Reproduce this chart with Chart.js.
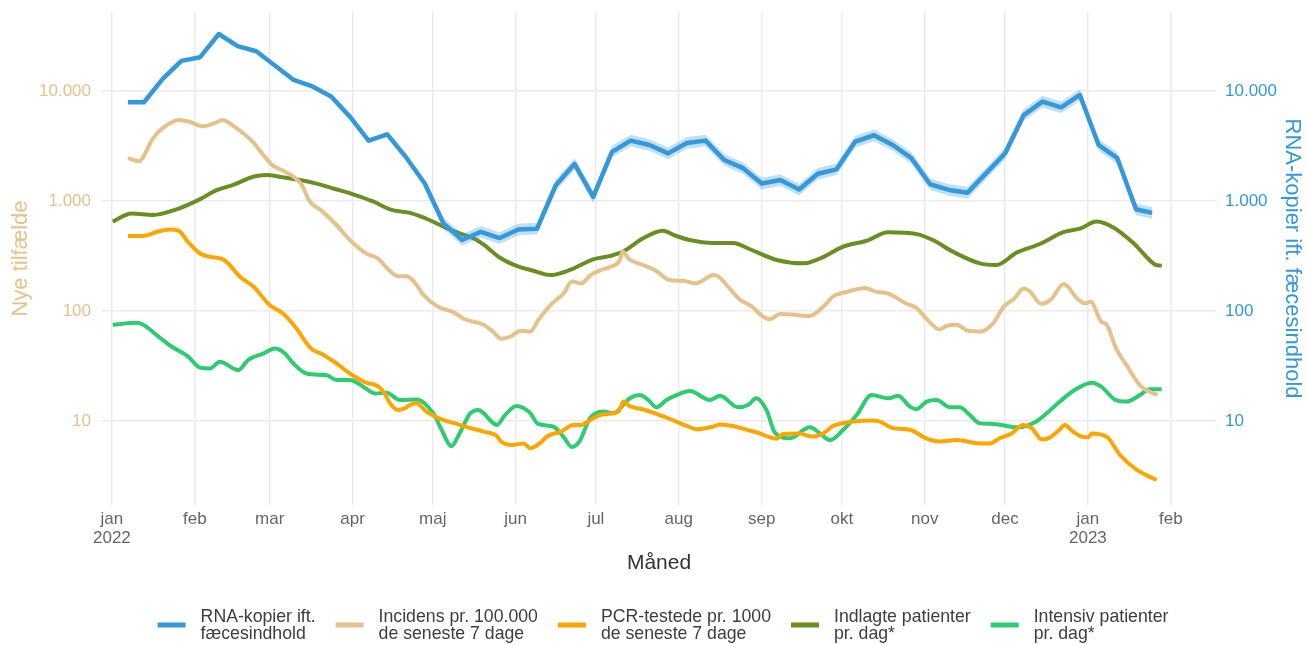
<!DOCTYPE html>
<html lang="da">
<head>
<meta charset="utf-8">
<title>Spildevand og nye tilfælde</title>
<script src="https://cdn.jsdelivr.net/npm/chart.js@4.4.1/dist/chart.umd.min.js"></script>
<style>
  html, body { margin: 0; padding: 0; background: #fff; }
  #wrap { width: 1307px; height: 645px; }
</style>
</head>
<body>
<div id="wrap"><canvas id="chart" width="1307" height="645"></canvas></div>
<script>
// dage regnes fra 1. januar 2022
const monthDays = [0, 31, 59, 90, 120, 151, 181, 212, 243, 273, 304, 334, 365, 396];
const monthLabels = [['jan', '2022'], 'feb', 'mar', 'apr', 'maj', 'jun', 'jul', 'aug', 'sep', 'okt', 'nov', 'dec', ['jan', '2023'], 'feb'];
const yTicks = [10, 100, 1000, 10000];

// RNA-kopier ift. fæcesindhold (ugentlige målinger) med usikkerhedsbånd
const rnaDays = [6, 12, 19, 26, 33, 40, 47, 54, 68, 75, 82, 89, 96, 103, 110, 117, 124, 131,
  138, 145, 152, 159, 166, 173, 180, 187, 194, 201, 208, 215, 222, 229, 236, 243, 250, 257, 264, 271,
  278, 285, 292, 299, 306, 313, 320, 334, 341, 348, 355, 362, 369, 376, 383, 389];
const rnaValues = [7900, 7900, 12900, 18800, 20300, 33000, 25600, 23000, 12600, 11000, 8900, 5850, 3540, 4040, 2500, 1440, 625, 442,
  525, 460, 550, 560, 1390, 2170, 1090, 2800, 3540, 3230, 2710, 3370, 3540, 2360, 1990, 1440, 1550, 1270, 1770, 1940,
  3470, 3960, 3230, 2450, 1420, 1260, 1190, 2700, 6040, 8000, 7100, 9200, 3230, 2450, 840, 780];
const rnaLow = [7700, 7700, 12500, 18200, 19700, 32000, 24800, 22300, 12200, 10600, 8600, 5650, 3400, 3880, 2380, 1360, 553, 391,
  465, 407, 487, 496, 1230, 1920, 965, 2480, 3130, 2860, 2400, 2980, 3130, 2090, 1760, 1270, 1370, 1120, 1570, 1720,
  3070, 3500, 2860, 2170, 1260, 1115, 1050, 2390, 5350, 7080, 6280, 8140, 2860, 2170, 740, 690];
const rnaHigh = [8100, 8100, 13300, 19400, 20900, 34000, 26400, 23700, 13000, 11400, 9200, 6050, 3680, 4200, 2620, 1520, 706, 500,
  593, 520, 622, 633, 1570, 2450, 1230, 3160, 4000, 3650, 3060, 3810, 4000, 2670, 2250, 1630, 1750, 1435, 2000, 2190,
  3920, 4470, 3650, 2770, 1600, 1420, 1345, 3050, 6830, 9040, 8020, 10400, 3650, 2770, 950, 880];

// Incidens pr. 100.000 de seneste 7 dage
const incDays = [6, 10, 15.5, 19, 25, 29, 34, 38, 41.5, 45, 49, 53, 56.5, 60, 63.5, 68, 71, 74, 78, 84, 89, 95, 99.5, 103,
  107, 110, 113, 116.5, 122, 127.5, 132, 139, 142.5, 145.5, 149, 153, 156.5, 159.5, 164, 169, 172, 175.5, 179, 183, 186,
  190, 191, 193.5, 198.5, 203.5, 208.5, 213.5, 218.5, 225, 227, 231, 235, 239, 243.5, 246, 250, 256, 261, 266, 270, 275,
  281.5, 286, 290, 297, 301, 305, 309.5, 312, 316, 320, 325, 329.5, 333.5, 337.5, 341, 343.5, 347.5, 351, 356, 361, 364,
  366, 370, 372, 375.5, 379.5, 384.5, 387, 391];
const incValues = [2450, 2300, 3750, 4600, 5450, 5250, 4770, 5050, 5450, 4900, 4150, 3370, 2640, 2120, 1910, 1660, 1400, 990, 830, 605, 442, 334, 300, 243,
  207, 207, 185, 140, 109, 98, 84, 75, 65, 56, 58.5, 66, 65, 83, 113, 145, 185, 178, 212, 236, 250,
  291, 345, 295, 262, 232, 191, 188, 178, 212, 204, 160, 126, 111, 89, 84, 94, 92, 90, 109, 137, 149,
  162, 149, 145, 117, 106, 83, 68, 73, 75, 66, 65, 77, 109, 130, 160, 149, 116, 126, 176, 130, 117,
  121, 80, 75, 46, 32, 21, 19, 17.2];

// PCR-testede pr. 1000 de seneste 7 dage
const pcrDays = [6, 11.7, 17, 21.5, 25, 28.5, 33, 36.5, 42, 48, 53, 59, 64, 68.5, 74.5, 79, 83.5, 90, 95, 99, 101.5, 104,
  107, 109.5, 111.5, 114, 117.5, 122.5, 129, 134, 139, 144, 145.5, 150, 154, 156.5, 160, 163, 168, 172.5, 175.5, 179,
  182.5, 187, 190, 191.2, 193.7, 198.7, 203.7, 210, 215.5, 218.7, 225, 227.4, 232.3, 237.4, 242.3, 246, 248.6, 251, 257,
  262, 266, 269.7, 274.8, 283.5, 287, 292, 298.4, 304.7, 309.6, 316, 324.6, 328.3, 332, 336.5, 340.8, 344, 347.7, 350.2,
  354, 356.4, 359, 362.7, 365.2, 366.4, 372, 377, 383.2, 387, 390.7];
const pcrValues = [481, 481, 525, 550, 535, 425, 333, 311, 291, 204, 166, 113, 95, 72, 45.5, 40, 34, 26, 22.3, 21, 18.5, 14.5,
  12.6, 13, 14, 14.5, 12.2, 10.5, 9.4, 8.6, 8.0, 7.3, 6.5, 6.05, 6.25, 5.65, 6.25, 7.3, 8.0, 9.2, 9.2, 10.2,
  11.3, 11.7, 12.7, 15.0, 13.6, 12.7, 11.6, 10.1, 8.9, 8.4, 8.9, 9.3, 9.0, 8.3, 7.7, 7.1, 6.9, 7.6, 7.7,
  7.2, 7.7, 9.0, 9.7, 10.1, 9.9, 8.6, 8.3, 6.9, 6.5, 6.7, 6.25, 6.25, 6.95, 7.7, 9.2, 8.6, 6.8, 6.95,
  8.15, 9.2, 8.15, 7.2, 7.1, 7.7, 7.2, 4.9, 3.6, 3.2, 2.9];

// Indlagte patienter pr. dag
const indDays = [0.3, 7.4, 15.4, 24.2, 33, 39, 45.4, 52.8, 57.8, 64, 70.3, 76.5, 82.8, 90.2, 97.7, 104, 108.3, 111.4,
  116.4, 122.7, 128.9, 136.4, 140, 145, 151.3, 157.6, 163.8, 171.3, 180, 186, 191, 198.7, 206, 211, 216, 224.9, 232.3,
  238.6, 248.6, 258.5, 264.8, 273.5, 282.2, 290.3, 301, 307, 314.6, 324.6, 330.8, 338.3, 347, 355.8, 362, 368.2, 374.5,
  382, 390, 392.6];
const indValues = [650, 770, 746, 840, 1040, 1250, 1400, 1660, 1720, 1640, 1550, 1440, 1300, 1150, 990, 840, 800, 780,
  710, 605, 520, 442, 385, 306, 257, 232, 212, 236, 295, 315, 345, 458, 535, 481, 442, 415, 415,
  364, 291, 271, 300, 385, 435, 520, 500, 442, 345, 271, 262, 339, 406, 520, 560, 650, 575,
  415, 265, 257];

// Intensiv patienter pr. dag
const icuDays = [0.3, 9.2, 11.7, 18, 22.3, 28.5, 33, 36.6, 40.4, 47.2, 51, 56.6, 61, 64.7, 67.8, 72.8, 80.3, 84, 89, 94,
  98.4, 102.7, 107.7, 114, 120.2, 123.3, 127, 130, 134, 137, 144, 147, 151.3, 156.3, 159.4, 165, 168.8, 172, 175, 178.8,
  183.7, 187.5, 193.7, 197.5, 200.6, 203.7, 207.4, 211.2, 216.2, 223.6, 227.4, 234.2, 238, 241, 244.8, 248, 253.6, 261,
  264.8, 268.5, 273.5, 278.5, 284.1, 290.3, 294, 298.4, 300.9, 304.7, 308.4, 313.4, 317, 320.9, 324.6, 329.6, 334.6,
  338.9, 345.7, 349.5, 354.5, 360, 366.4, 370, 375, 379.5, 384.4, 388, 392.6];
const icuValues = [75, 78, 75, 57, 47.5, 38.5, 30.5, 30, 34.5, 29, 36, 41, 45.5, 41, 33.5, 27, 26, 23.6, 23.6, 20.5,
  17.8, 18, 15.5, 15.7, 11.7, 8.3, 5.9, 7.7, 11.7, 12.6, 9.2, 11.3, 13.7, 11.9, 9.4, 8.9, 7.2, 5.8, 6.6, 10.6,
  12.2, 11.7, 16.1, 17.2, 15.5, 13.3, 15.5, 17.2, 18.7, 15.5, 16.9, 13.3, 14, 16.1, 12.6, 7.8, 6.95, 8.75,
  7.7, 6.7, 8.3, 11.3, 17.2, 16.1, 16.9, 13.5, 12.8, 15, 15.5, 13.3, 13.3, 11.3, 9.5, 9.4, 9.0,
  8.75, 9.9, 11.7, 15, 19.1, 22.3, 20.5, 15.7, 15, 17.2, 19.4, 19.4];

const legendLabels = [
  ['RNA-kopier ift.', 'fæcesindhold'],
  ['Incidens pr. 100.000', 'de seneste 7 dage'],
  ['PCR-testede pr. 1000', 'de seneste 7 dage'],
  ['Indlagte patienter', 'pr. dag*'],
  ['Intensiv patienter', 'pr. dag*']
];

const BLUE = '#3498db';
const TAN = '#e5c28b';
const ORANGE = '#ffa500';
const OLIVE = '#6b8e23';
const GREEN = '#2ecc71';
const legendColors = [BLUE, TAN, ORANGE, OLIVE, GREEN];
const FONT = '"Liberation Sans", Arial, sans-serif';

function points(days, values) {
  return days.map((d, i) => ({ x: d, y: values[i] }));
}

function dkNumber(v) {
  return v.toString().replace(/\B(?=(\d{3})+(?!\d))/g, '.');
}

function line(label, days, values, color, axis, smooth) {
  return {
    label: label,
    data: points(days, values),
    borderColor: color,
    backgroundColor: color,
    borderWidth: 4,
    pointRadius: 0,
    fill: false,
    tension: smooth ? 0.4 : 0,
    cubicInterpolationMode: smooth ? 'monotone' : 'default',
    yAxisID: axis,
    borderJoinStyle: 'round',
    borderCapStyle: 'butt'
  };
}

// bundlegende med to-linjede tekster
const legendPlugin = {
  id: 'bundLegende',
  afterDraw(chart) {
    const ctx = chart.ctx;
    ctx.save();
    ctx.font = '17.7px ' + FONT;
    const keyW = 28, keyGap = 15, itemGap = 20;
    const widths = legendLabels.map(l => Math.max(...l.map(t => ctx.measureText(t).width)));
    const total = widths.reduce((s, w) => s + keyW + keyGap + w, 0) + itemGap * (legendLabels.length - 1);
    let x = 663 - total / 2;
    ctx.textBaseline = 'middle';
    legendLabels.forEach((lines, i) => {
      ctx.fillStyle = legendColors[i];
      ctx.fillRect(x, 622.5, keyW, 5);
      ctx.fillStyle = '#3d3d3d';
      lines.forEach((t, j) => ctx.fillText(t, x + keyW + keyGap, 617 + j * 17));
      x += keyW + keyGap + widths[i] + itemGap;
    });
    ctx.restore();
  }
};

const rnaLine = line('RNA-kopier ift. fæcesindhold', rnaDays, rnaValues, BLUE, 'y1', false);
rnaLine.borderWidth = 4.5;
const bandLow = line('bånd nedre', rnaDays, rnaLow, 'rgba(0,0,0,0)', 'y1', false);
bandLow.borderWidth = 0;
const bandHigh = line('bånd øvre', rnaDays, rnaHigh, 'rgba(0,0,0,0)', 'y1', false);
bandHigh.borderWidth = 0;
bandHigh.fill = 1;
bandHigh.backgroundColor = 'rgba(52,152,219,0.3)';

new Chart(document.getElementById('chart'), {
  type: 'line',
  data: {
    datasets: [
      rnaLine,
      bandLow,
      bandHigh,
      line('Incidens pr. 100.000 de seneste 7 dage', incDays, incValues, TAN, 'y', true),
      line('PCR-testede pr. 1000 de seneste 7 dage', pcrDays, pcrValues, ORANGE, 'y', true),
      line('Indlagte patienter pr. dag*', indDays, indValues, OLIVE, 'y', true),
      line('Intensiv patienter pr. dag*', icuDays, icuValues, GREEN, 'y', true)
    ]
  },
  options: {
    responsive: false,
    animation: false,
    layout: { padding: { top: 12, bottom: 69, left: 0, right: 0 } },
    plugins: {
      legend: { display: false },
      tooltip: { enabled: false }
    },
    scales: {
      x: {
        type: 'linear',
        min: -3.7,
        max: 412.9,
        afterBuildTicks: s => { s.ticks = monthDays.map(v => ({ value: v })); },
        afterFit: s => { s.height = 71; s.paddingLeft = 0; s.paddingRight = 0; },
        ticks: {
          callback: (v, i) => monthLabels[i],
          color: '#666',
          padding: 4.5,
          maxRotation: 0,
          autoSkip: false,
          font: { family: FONT, size: 17, lineHeight: 1.12 }
        },
        grid: { color: '#ebebeb', lineWidth: 1.5, drawTicks: false },
        border: { display: false },
        title: {
          display: true,
          text: 'Måned',
          color: '#333',
          padding: 0,
          font: { family: FONT, size: 21, lineHeight: 1.2 }
        }
      },
      y: {
        type: 'logarithmic',
        position: 'left',
        min: 1.72,
        max: 52300,
        afterBuildTicks: s => { s.ticks = yTicks.map(v => ({ value: v })); },
        afterFit: s => { s.width = 102; s.paddingTop = 0; s.paddingBottom = 0; },
        ticks: {
          callback: v => dkNumber(v),
          color: TAN,
          padding: 11,
          font: { family: FONT, size: 17 }
        },
        grid: { color: '#ebebeb', lineWidth: 1.5, drawTicks: false },
        border: { display: false },
        title: {
          display: true,
          text: 'Nye tilfælde',
          color: TAN,
          padding: { top: 8, bottom: 0 },
          font: { family: FONT, size: 22, lineHeight: 1.2 }
        }
      },
      y1: {
        type: 'logarithmic',
        position: 'right',
        min: 1.72,
        max: 52300,
        afterBuildTicks: s => { s.ticks = yTicks.map(v => ({ value: v })); },
        afterFit: s => { s.width = 91; s.paddingTop = 0; s.paddingBottom = 0; },
        ticks: {
          callback: v => dkNumber(v),
          color: BLUE,
          padding: 9,
          font: { family: FONT, size: 17 }
        },
        grid: { display: false, drawTicks: false },
        border: { display: false },
        title: {
          display: true,
          text: 'RNA-kopier ift. fæcesindhold',
          color: BLUE,
          padding: { top: 2, bottom: 0 },
          font: { family: FONT, size: 22, lineHeight: 1.2 }
        }
      }
    }
  },
  plugins: [legendPlugin]
});
</script>
</body>
</html>
